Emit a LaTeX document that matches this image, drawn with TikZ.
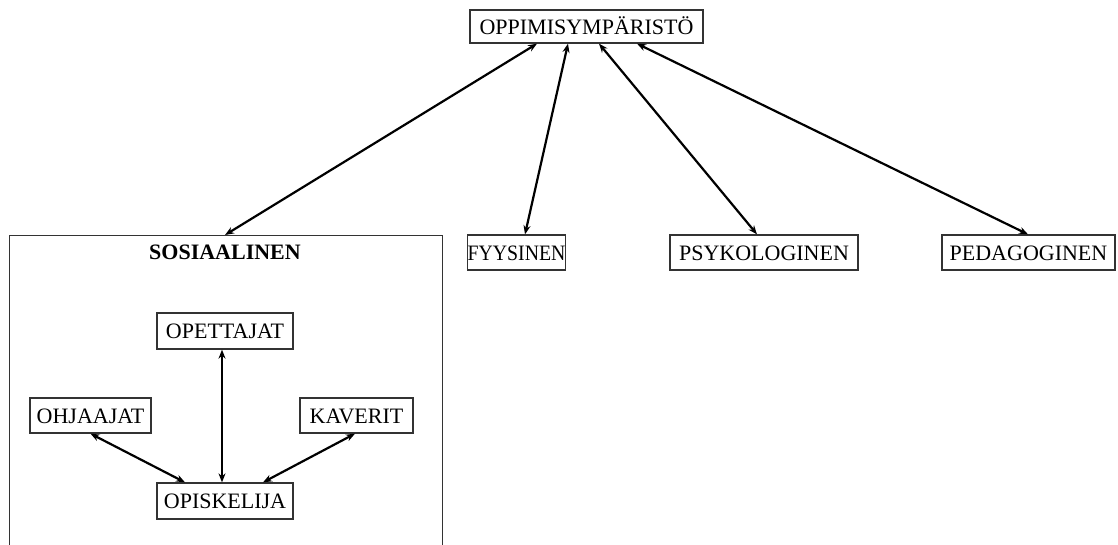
\documentclass[tikz,border=0pt]{standalone}
\usepackage{fontspec}
\setmainfont{Liberation Serif}
\usepackage{graphicx}
\usetikzlibrary{arrows.meta}
\begin{document}
\begin{tikzpicture}[x=1pt,y=-1pt,
  box/.style={draw=black!80, line width=1.3pt, inner sep=0pt, font=\fontsize{22}{26}\selectfont, text height=15pt, text depth=0pt},
  link/.style={{Stealth[length=9pt,width=7pt]}-{Stealth[length=9pt,width=7pt]}, line width=2.2pt}]
\clip (0,0) rectangle (1118,544);
\fill[white] (0,0) rectangle (1118,544);
\node[box, minimum width=233pt, minimum height=33pt] (top) at (586.5,26.5) {OPPIMISYMPÄRISTÖ};
\node[box, minimum width=433pt, minimum height=340pt, anchor=north west] (sos) at (9,235) {};
\node[font=\bfseries\fontsize{22}{26}\selectfont] (sostitle) at (225,252) {SOSIAALINEN};
\node[box, minimum width=98pt, minimum height=35pt] (fyy) at (516.5,252.5) {\scalebox{0.9}[1]{FYYSINEN}};
\node[box, minimum width=188pt, minimum height=35pt] (psy) at (764,252.5) {PSYKOLOGINEN};
\node[box, minimum width=173pt, minimum height=35pt] (ped) at (1028.5,252.5) {PEDAGOGINEN};
\node[box, minimum width=136pt, minimum height=36pt] (ope) at (225,331) {OPETTAJAT};
\node[box, minimum width=121pt, minimum height=35pt] (ohj) at (90.5,415.5) {OHJAAJAT};
\node[box, minimum width=113pt, minimum height=35pt] (kav) at (356.5,415.5) {KAVERIT};
\node[box, minimum width=136pt, minimum height=36pt] (opi) at (225,501) {OPISKELIJA};
\draw[link] (top.south -| 537,0) -- (sos.north -| 225,0);
\draw[link] (top.south -| 568,0) -- (fyy.north -| 525,0);
\draw[link] (top.south -| 599,0) -- (psy.north -| 757,0);
\draw[link] (top.south -| 637,0) -- (ped.north -| 1028,0);
\draw[link] (ope.south -| 222,0) -- (opi.north -| 222,0);
\draw[link] (ohj.south) -- (opi.north -| 185,0);
\draw[link] (kav.south -| 355,0) -- (opi.north -| 263,0);
\end{tikzpicture}
\end{document}
